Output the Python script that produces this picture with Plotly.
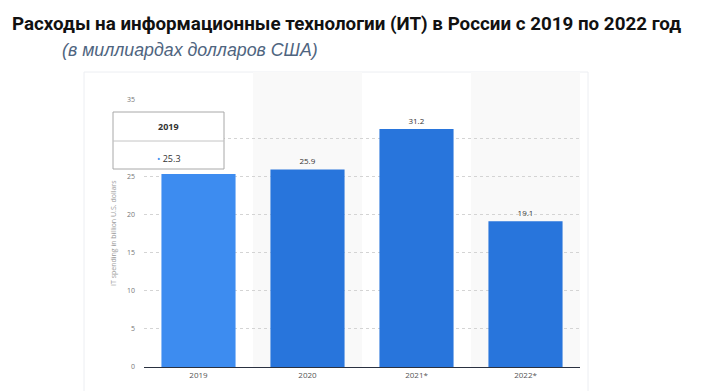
import plotly.graph_objects as go

categories = ["2019", "2020", "2021*", "2022*"]
values = [25.3, 25.9, 31.2, 19.1]
bar_colors = ["#3d8cf0", "#2875dc", "#2875dc", "#2875dc"]
y_ticks = [0, 5, 10, 15, 20, 25, 30, 35]
title_text = "Расходы на информационные технологии (ИТ) в России с 2019 по 2022 год"
subtitle_text = "(в миллиардах долларов США)"
y_title = "IT spending in billion U.S. dollars"
tooltip_year = "2019"
tooltip_value = 25.3

W, H = 703, 391
L, R, T, B = 144, 123, 100, 24
pw, ph = W - L - R, H - T - B

def px(x):
    return (x - L) / pw

def py(y):
    return (H - B - y) / ph

labels = ["" if c == tooltip_year else f"{v}" for c, v in zip(categories, values)]

fig = go.Figure()
fig.add_trace(go.Bar(
    x=categories, y=values, marker_color=bar_colors, marker_line_width=0,
    width=0.68, text=labels, textposition="outside", cliponaxis=False,
    textfont=dict(size=8, color="#333333", family="Open Sans"),
    hoverinfo="skip",
))

shapes = []
# panel
shapes.append(dict(type="rect", xref="paper", yref="paper", x0=px(84), x1=px(588),
                   y0=py(395), y1=py(72), fillcolor="white",
                   line=dict(color="#eceef2", width=1), layer="below"))
# alternating bands
for i, c in enumerate(categories):
    if i % 2 == 1:
        shapes.append(dict(type="rect", xref="x", yref="paper", x0=i - 0.5, x1=i + 0.5,
                           y0=0, y1=py(72), fillcolor="#f9f9f9", line_width=0, layer="below"))
# tooltip box
shapes.append(dict(type="rect", xref="paper", yref="paper", x0=px(113), x1=px(224),
                   y0=py(169), y1=py(112), fillcolor="white",
                   line=dict(color="#a8a8a8", width=1), layer="above"))
shapes.append(dict(type="line", xref="paper", yref="paper", x0=px(113), x1=px(224),
                   y0=py(141), y1=py(141), line=dict(color="#c4c4c4", width=1), layer="above"))

annotations = [
    dict(text=f"<b>{title_text}</b>", xref="paper", yref="paper", x=px(10), y=py(24),
         xanchor="left", yanchor="middle", showarrow=False,
         font=dict(size=18.8, color="#111111", family="Roboto")),
    dict(text=f"<i>{subtitle_text}</i>", xref="paper", yref="paper", x=px(60), y=py(50),
         xanchor="left", yanchor="middle", showarrow=False,
         font=dict(size=17.8, color="#4f6580", family="Liberation Sans")),
    dict(text=y_title, xref="paper", yref="paper", x=px(113), y=py(233),
         xanchor="center", yanchor="middle", textangle=-90, showarrow=False,
         font=dict(size=7, color="#9a9a9a", family="Open Sans")),
    dict(text=f"<b>{tooltip_year}</b>", xref="paper", yref="paper", x=px(168.5), y=py(126),
         xanchor="center", yanchor="middle", showarrow=False,
         font=dict(size=9, color="#333333", family="Open Sans")),
    dict(text=f"<span style='color:#3d8cf0'>•</span> {tooltip_value}", xref="paper", yref="paper",
         x=px(168.5), y=py(158), xanchor="center", yanchor="middle", showarrow=False,
         font=dict(size=9, color="#333333", family="Open Sans")),
]

fig.update_layout(
    width=W, height=H, margin=dict(l=L, r=R, t=T, b=B),
    paper_bgcolor="white", plot_bgcolor="rgba(0,0,0,0)",
    showlegend=False, shapes=shapes, annotations=annotations, bargap=0.32,
    xaxis=dict(range=[-0.5, 3.5], showgrid=False, showline=True, linecolor="#2a3140",
               linewidth=1, ticks="", tickfont=dict(size=8, color="#555555", family="Open Sans"),
               fixedrange=True),
    yaxis=dict(range=[0, 35], tickvals=y_ticks, showgrid=True, gridcolor="#d4d4d4",
               griddash="dot", gridwidth=1, zeroline=False, showline=False,
               tickfont=dict(size=7, color="#777777", family="Open Sans"),
               ticklabelstandoff=8, fixedrange=True),
)

fig.write_html("out.html", config={"displayModeBar": False},
               post_script="document.body.style.margin='0';")
